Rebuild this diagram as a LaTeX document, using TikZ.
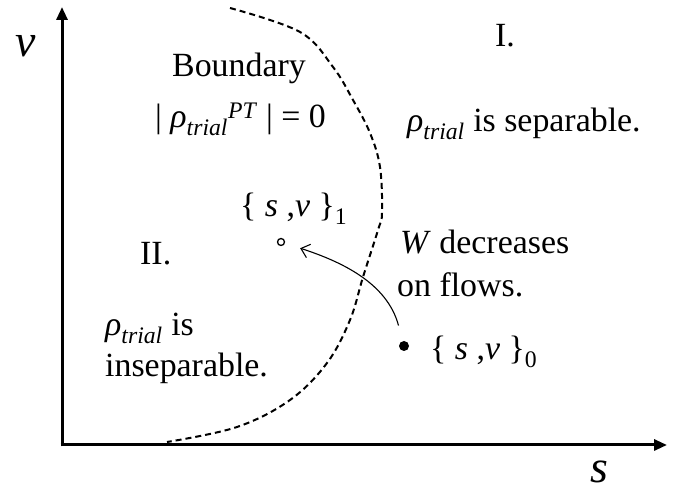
\documentclass[tikz,border=0pt]{standalone}
\usepackage{fontspec}
\setmainfont{Liberation Serif}
\usepackage{tikz}
\usetikzlibrary{positioning, arrows.meta}

\newcommand{\rhotrial}{\textit{ρ}\textsubscript{\textit{trial}}}

\begin{document}
\begin{tikzpicture}[
    x=1bp, y=1bp,
    label/.style={anchor=base west, inner sep=0pt, font=\fontsize{34}{40}\selectfont},
    axislabel/.style={anchor=base west, inner sep=0pt, font=\fontsize{46}{50}\selectfont\itshape},
    axis/.style={line width=3bp, -{Triangle[length=13bp, width=11bp]}},
    boundary/.style={line width=2bp, dash pattern=on 6bp off 4bp},
    flow/.style={line width=1.1bp, -{Straight Barb[length=8bp, width=14bp]}}
]
    \useasboundingbox (0,0) rectangle (677,494);

    \coordinate (origin) at (62,49);
    \coordinate (vtip) at (62,487);
    \coordinate (stip) at (667,49);
    \draw[axis] ([xshift=-1.5bp]origin) -- (stip);
    \draw[axis] ([yshift=-1.5bp]origin) -- (vtip);
    \node[axislabel] (vlabel) at (15,437) {v};
    \node[axislabel] (slabel) at (590,11) {s};

    \draw[boundary] plot[smooth, tension=0.6] coordinates {
        (230,486) (300,462) (333,427) (353,394) (370,361) (380,327)
        (382,281) (378,264) (363,217) (350,174) (327,131) (290,94)
        (237,67) (167,52)};

    \node[label] (boundary) at (172,417) {Boundary};
    \node[label] (detcond) at (155,366) {| \rhotrial\textsuperscript{\textit{PT}} | = 0};
    \node[label] (regionI) at (495,447) {I.};
    \node[label] (sepText) at (407,362) {\rhotrial{} is separable.};

    \node[label] (pointOne) at (240,277) {\{ \textit{s} ,\textit{v} \}\textsubscript{1}};
    \node[label] (regionII) at (140,229) {II.};
    \node[label] (flowText) at (400,240) {\textit{W} decreases};
    \node[label] (flowText2) at (397,197) {on flows.};
    \node[label] (insepText) at (105,158) {\rhotrial{} is};
    \node[label] (insepText2) at (105,117) {inseparable.};
    \node[label] (pointZero) at (430,134) {\{ \textit{s} ,\textit{v} \}\textsubscript{0}};

    \node[circle, fill, inner sep=0pt, minimum size=10bp] (dotZero) at (404,148) {};
    \node[circle, draw, line width=1.3bp, inner sep=0pt, minimum size=7bp] (dotOne) at (281,252) {};

    \draw[flow, shorten <=16bp, shorten >=16bp] (dotZero) to[out=105, in=-18] (dotOne);
\end{tikzpicture}
\end{document}
